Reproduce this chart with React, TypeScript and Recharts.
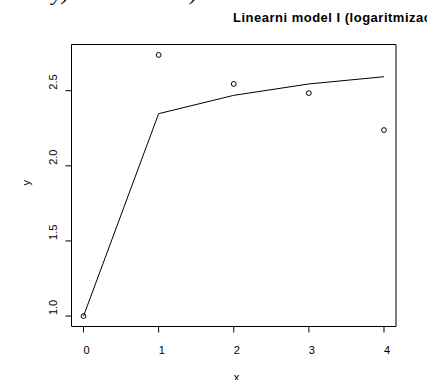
import React from "react";
import {
  ComposedChart,
  Line,
  Scatter,
  XAxis,
  YAxis,
  ReferenceArea,
} from "recharts";

// ---- data ----
const xValues = [0, 1, 2, 3, 4];
const observed = [1.0, 2.738, 2.545, 2.484, 2.238];
const fitted = [1.0, 2.347, 2.469, 2.545, 2.593];
const xTicks = [0, 1, 2, 3, 4];
const yTicks = [1.0, 1.5, 2.0, 2.5];
const titleText = "Linearni model I (logaritmizacija x)";

const data = xValues.map((x, i) => ({ x, obs: observed[i], fit: fitted[i] }));

// R-style 4% axis extension
const ext = (vals: number[]): [number, number] => {
  const lo = Math.min(...vals);
  const hi = Math.max(...vals);
  const d = (hi - lo) * 0.04;
  return [lo - d, hi + d];
};
const xDomain = ext(xValues);
const yDomain = ext(observed);

const FONT = "'Liberation Sans', Arial, sans-serif";

const XTick = (props: any) => {
  const { x, y, payload } = props;
  return (
    <text x={x} y={y + 19} textAnchor="start" fontSize={11} fontFamily={FONT} fill="#000">
      {String(payload.value)}
    </text>
  );
};

const YTick = (props: any) => {
  const { x, y, payload } = props;
  const bx = x - 6.5;
  return (
    <text
      x={bx}
      y={y - 1}
      transform={`rotate(-90, ${bx}, ${y - 1})`}
      textAnchor="start"
      fontSize={11}
      fontFamily={FONT}
      fill="#000"
    >
      {Number(payload.value).toFixed(1)}
    </text>
  );
};

const Dot = (p: any) => (
  <circle cx={p.cx} cy={p.cy} r={2.4} fill="none" stroke="#000" strokeWidth={1} />
);

export default function App() {
  return (
    <div style={{ position: "absolute", left: 0, top: 0, width: 427, height: 380, background: "#fff", overflow: "hidden" }}>
      <ComposedChart
        width={427}
        height={380}
        data={data}
        margin={{ top: 44.5, right: 31, bottom: 23.5, left: 31.5 }}
      >
        <XAxis
          type="number"
          dataKey="x"
          domain={xDomain}
          ticks={xTicks}
          allowDataOverflow
          axisLine={false}
          tickLine={{ stroke: "#000", strokeWidth: 1 }}
          tickSize={6}
          height={30}
          tick={XTick}
        />
        <YAxis
          type="number"
          domain={yDomain}
          ticks={yTicks}
          allowDataOverflow
          axisLine={false}
          tickLine={{ stroke: "#000", strokeWidth: 1 }}
          tickSize={6}
          width={40}
          tick={YTick}
        />
        <ReferenceArea
          x1={xDomain[0]}
          x2={xDomain[1]}
          y1={yDomain[0]}
          y2={yDomain[1]}
          fill="none"
          fillOpacity={0}
          stroke="#000"
          strokeWidth={1}
          ifOverflow="visible"
        />
        <Line
          type="linear"
          dataKey="fit"
          stroke="#000"
          strokeWidth={1}
          dot={false}
          activeDot={false}
          isAnimationActive={false}
        />
        <Scatter dataKey="obs" shape={Dot} isAnimationActive={false} />
        <text x={233} y={22} fontSize={13} letterSpacing={0.5} fontWeight="bold" fontFamily={FONT} fill="#000">
          {titleText}
        </text>
        <text x={233.7} y={381} fontSize={11} fontFamily={FONT} fill="#000">
          x
        </text>
        <text
          x={30}
          y={185.5}
          transform="rotate(-90, 30, 185.5)"
          fontSize={11}
          fontFamily={FONT}
          fill="#000"
        >
          y
        </text>
        <text x={52} y={0} fontSize={22} fontStyle="italic" fontFamily="'Liberation Serif', serif" fill="#000">
          y)
        </text>
        <text x={190} y={0} fontSize={22} fontStyle="italic" fontFamily="'Liberation Serif', serif" fill="#000">
          )
        </text>
      </ComposedChart>
    </div>
  );
}
